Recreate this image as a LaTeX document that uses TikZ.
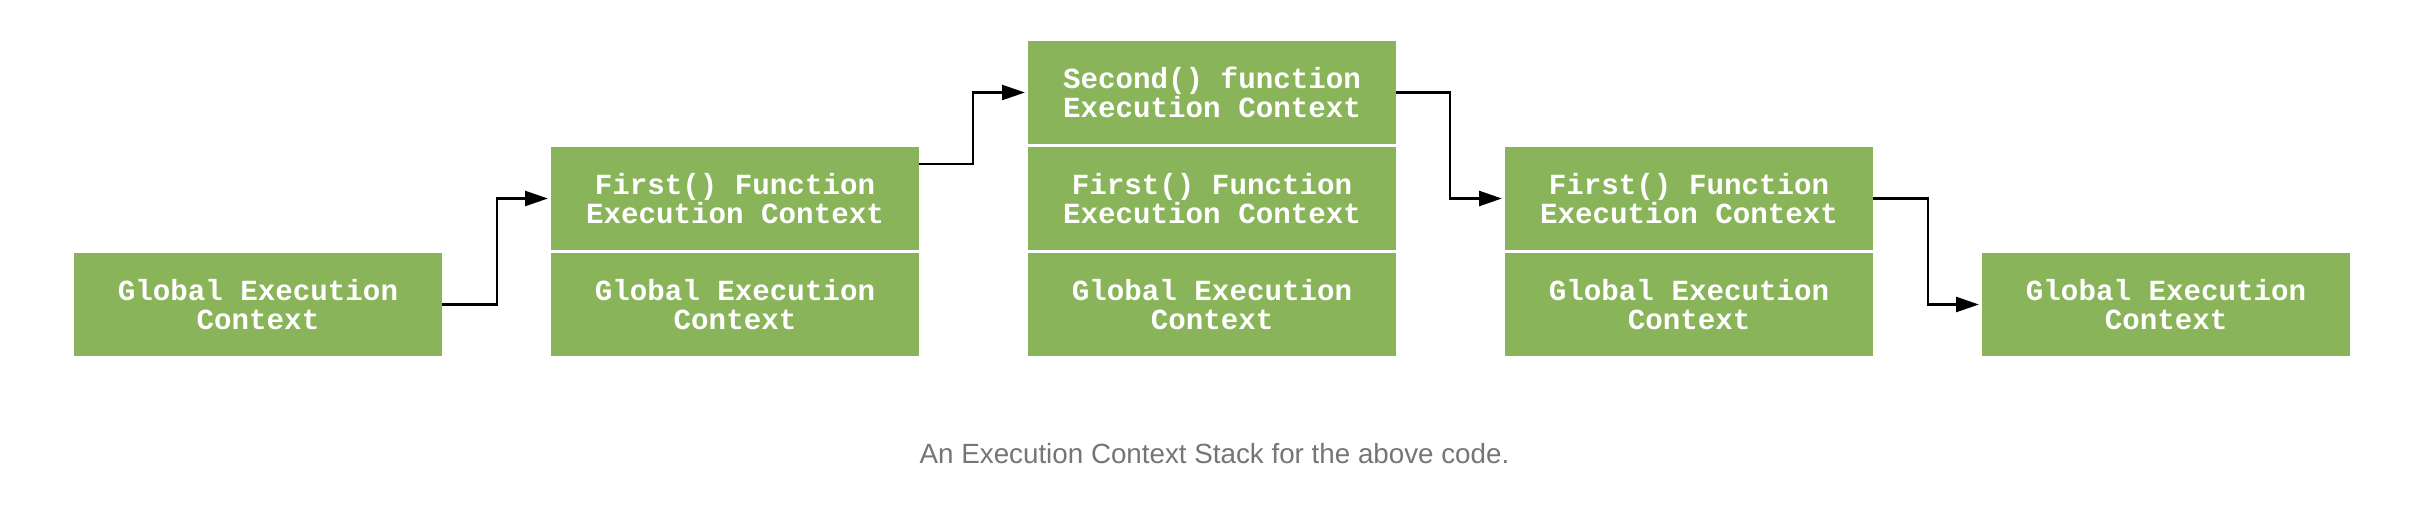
\documentclass[tikz,border=0pt]{standalone}
\usepackage{fontspec}
\setmonofont{Liberation Mono}
\setsansfont{Liberation Sans}
\usetikzlibrary{positioning,arrows.meta}
\definecolor{ctxgreen}{RGB}{137,180,89}
\definecolor{capgray}{RGB}{117,117,117}
\tikzset{
  ctxbox/.style={fill=ctxgreen, text=white, minimum width=3.68cm, minimum height=1.03cm,
    inner sep=0pt, outer sep=0pt, align=center,
    font=\ttfamily\bfseries\fontsize{8.3}{8.35}\selectfont},
  stackarrow/.style={-{Triangle[length=6.5pt,width=4.3pt]}, line width=0.6pt, shorten >=0.9pt}
}
\begin{document}
\begin{tikzpicture}
\useasboundingbox (0,0) rectangle (24.2,5.16);
% stacks, bottom up
\node[ctxbox] (glob1) at (2.58, 2.115) {Global Execution\\Context};
\node[ctxbox] (glob2) at (7.35, 2.115) {Global Execution\\Context};
\node[ctxbox, above=0.03cm of glob2] (first2) {First() Function\\Execution Context};
\node[ctxbox] (glob3) at (12.12, 2.115) {Global Execution\\Context};
\node[ctxbox, above=0.03cm of glob3] (first3) {First() Function\\Execution Context};
\node[ctxbox, above=0.03cm of first3] (second3) {Second() function\\Execution Context};
\node[ctxbox] (glob4) at (16.89, 2.115) {Global Execution\\Context};
\node[ctxbox, above=0.03cm of glob4] (first4) {First() Function\\Execution Context};
\node[ctxbox] (glob5) at (21.66, 2.115) {Global Execution\\Context};
% arrows
\draw[stackarrow] (glob1.east) -- ++(0.55,0) |- (first2.west);
\draw[stackarrow] ([yshift=-0.17cm]first2.north east) -- ++(0.54,0) |- (second3.west);
\draw[stackarrow] (second3.east) -- ++(0.54,0) |- (first4.west);
\draw[stackarrow] (first4.east) -- ++(0.55,0) |- (glob5.west);
\node[anchor=base, text=capgray, font=\sffamily\fontsize{7.9}{9}\selectfont] (caption) at (12.145, 0.53)
  {An Execution Context Stack for the above code.};
\end{tikzpicture}
\end{document}
